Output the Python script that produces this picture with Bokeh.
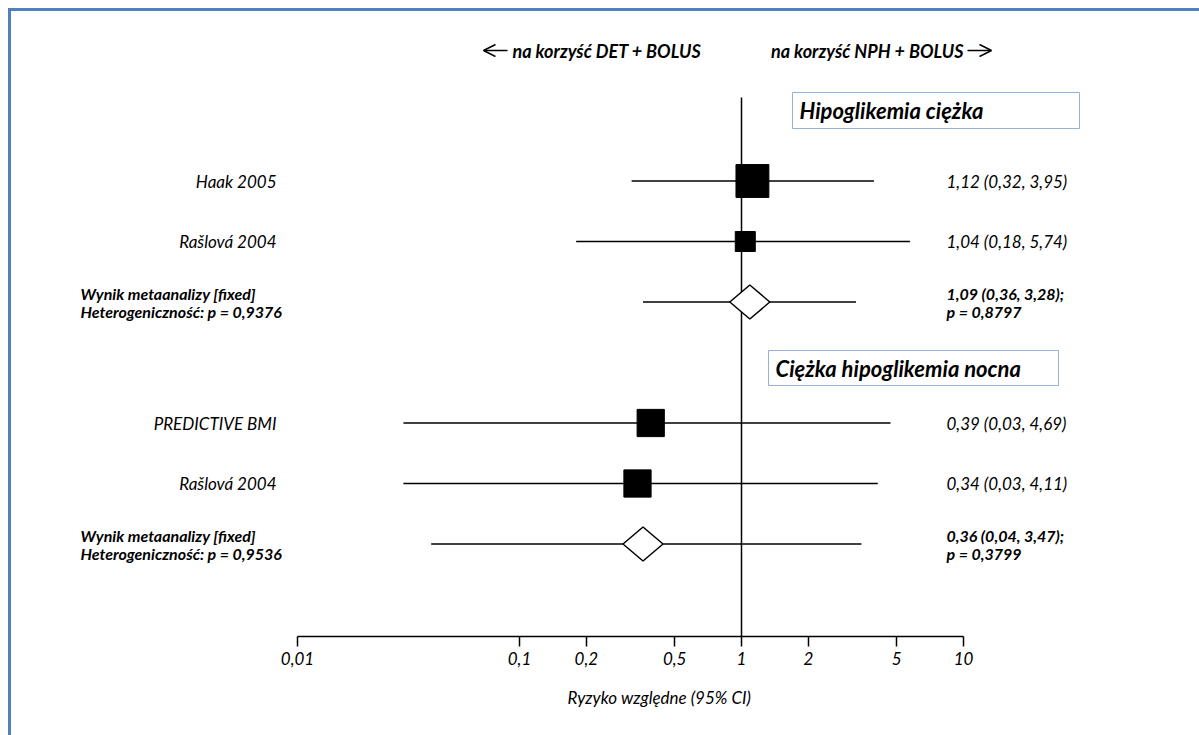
import math
from bokeh.plotting import figure
from bokeh.models import (Range1d, LogAxis, FixedTicker, Title,
                          ColumnDataSource, Arrow, OpenHead)
from bokeh.core.properties import value
from bokeh.embed import file_html
from bokeh.resources import INLINE

# ---- data -------------------------------------------------------------
study_names = ["Haak 2005", "Rašlová 2004", "PREDICTIVE BMI", "Rašlová 2004"]
study_rr = [1.12, 1.04, 0.39, 0.34]
study_lo = [0.32, 0.18, 0.03, 0.03]
study_hi = [3.95, 5.74, 4.69, 4.11]
study_weight = [73, 27, 50, 50]          # % weight within each analysis
study_row = [1, 2, 5, 6]

pooled_rr = [1.09, 0.36]
pooled_lo = [0.36, 0.04]
pooled_hi = [3.28, 3.47]
pooled_p = ["0,8797", "0,3799"]
het_p = ["0,9376", "0,9536"]
pooled_row = [3, 7]

section_titles = ["Hipoglikemia ciężka", "Ciężka hipoglikemia nocna"]

tick_values = [0.01, 0.1, 0.2, 0.5, 1, 2, 5, 10]
tick_labels = ["0,01", "0,1", "0,2", "0,5", "1", "2", "5", "10"]

# ---- layout -----------------------------------------------------------
W, H = 1199, 735
FRAME_H = 636            # axis line sits at the bottom of the frame
X_ONE = 741              # pixel position of RR = 1
DEC = 222                # pixels per decade
FONT = "Lato"
BLUE = "#4F81BD"


def xd(px):
    """pixel column -> value on the log axis"""
    return 10 ** ((px - X_ONE) / DEC)


def row_y(r):
    return 120 + 60.5 * r


def pl(v):
    return f"{v:.2f}".replace(".", ",")


p = figure(width=W, height=H, x_axis_type="log",
           x_range=Range1d(xd(0), xd(W)), y_range=Range1d(FRAME_H, 0),
           x_axis_location=None, y_axis_location=None,
           output_backend="svg", toolbar_location=None,
           min_border_left=0, min_border_right=0, min_border_top=0,
           min_border_bottom=H - FRAME_H)
p.xgrid.visible = False
p.ygrid.visible = False
p.outline_line_color = None
p.background_fill_color = None
p.border_fill_color = None
# page frame (top and left rules) painted behind the transparent canvas
p.styles = {"background": (f"linear-gradient({BLUE}, {BLUE}) 8px 8px / 3px 100% no-repeat, "
                           f"linear-gradient({BLUE}, {BLUE}) 8px 8px / 100% 3px no-repeat, "
                           "#ffffff")}

# x axis
ax = LogAxis(bounds=(0.01, 10), ticker=FixedTicker(ticks=tick_values, minor_ticks=[]))
ax.major_label_overrides = {v: t for v, t in zip(tick_values, tick_labels)}
ax.major_tick_in = 0
ax.major_tick_out = 10
ax.minor_tick_in = 0
ax.minor_tick_out = 0
ax.axis_line_width = 1.5
ax.major_tick_line_width = 1.5
ax.major_label_text_font = FONT
ax.major_label_text_font_style = "italic"
ax.major_label_text_font_size = "17px"
ax.major_label_text_color = "black"
ax.major_label_standoff = 5
p.add_layout(ax, "below")

# axis title
p.add_layout(Title(text="Ryzyko względne (95% CI)", align="left", offset=567,
                   text_font=FONT, text_font_style="italic", text_font_size="17px",
                   text_color="black", standoff=34), "below")

# line of no effect
p.segment(x0=[1], y0=[97], x1=[1], y1=[FRAME_H], line_color="black", line_width=1.5)

# individual studies
s_src = ColumnDataSource(dict(
    rr=study_rr, lo=study_lo, hi=study_hi,
    y=[row_y(r) for r in study_row],
    size=[3.85 * math.sqrt(w) for w in study_weight],
    name=study_names,
    lab=[f"{pl(r)} ({pl(a)}, {pl(b)})" for r, a, b in zip(study_rr, study_lo, study_hi)],
))
p.segment(x0="lo", y0="y", x1="hi", y1="y", source=s_src, line_color="black", line_width=1.5)
p.scatter(x="rr", y="y", size="size", marker="square", source=s_src,
          fill_color="black", line_color="black")

# pooled estimates
k = 10 ** (20 / DEC)
m_src = ColumnDataSource(dict(
    lo=pooled_lo, hi=pooled_hi, y=[row_y(r) for r in pooled_row],
    xs=[[r / k, r, r * k, r] for r in pooled_rr],
    ys=[[row_y(r), row_y(r) - 17, row_y(r), row_y(r) + 17] for r in pooled_row],
))
p.segment(x0="lo", y0="y", x1="hi", y1="y", source=m_src, line_color="black", line_width=1.5)
p.patches(xs="xs", ys="ys", source=m_src, fill_color="white", line_color="black", line_width=1.5)

# left study names
p.text(x=[xd(276)] * len(study_names), y=[row_y(r) for r in study_row], text=study_names,
       text_align="right", text_baseline="middle", text_font=value(FONT),
       text_font_style="italic", text_font_size="17px", text_color="black")
# right effect sizes
p.text(x=[xd(946)] * len(study_names), y=[row_y(r) for r in study_row], text=s_src.data["lab"],
       text_align="left", text_baseline="middle", text_font=value(FONT),
       text_font_style="italic", text_font_size="17px", text_color="black")

# pooled text blocks
for i, r in enumerate(pooled_row):
    y = row_y(r)
    for dy, t in [(-9, "Wynik metaanalizy [fixed]"), (9, f"Heterogeniczność: p = {het_p[i]}")]:
        p.text(x=[xd(80)], y=[y + dy], text=[t], text_align="left", text_baseline="middle",
               text_font=value(FONT), text_font_style="bold italic", text_font_size="16px",
               text_color="black")
    est = f"{pl(pooled_rr[i])} ({pl(pooled_lo[i])}, {pl(pooled_hi[i])});"
    for dy, t in [(-9, est), (9, f"p = {pooled_p[i]}")]:
        p.text(x=[xd(946)], y=[y + dy], text=[t], text_align="left", text_baseline="middle",
               text_font=value(FONT), text_font_style="bold italic", text_font_size="16px",
               text_color="black")

# section title boxes
boxes = [(792, 1079, 92, 128), (768, 1058, 350, 385)]
for (l, r, t, b), title in zip(boxes, section_titles):
    p.quad(left=[xd(l)], right=[xd(r)], top=[t], bottom=[b], fill_color="white",
           line_color="#95B3D7", line_width=1)
    p.text(x=[xd(l + 7)], y=[(t + b) / 2], text=[title], text_align="left",
           text_baseline="middle", text_font=value(FONT), text_font_style="bold italic",
           text_font_size="22px", text_color="black")

# direction labels
p.text(x=[xd(512)], y=[50], text=["na korzyść DET + BOLUS"], text_align="left",
       text_baseline="middle", text_font=value(FONT), text_font_style="bold italic",
       text_font_size="18px", text_color="black")
p.text(x=[xd(963)], y=[50], text=["na korzyść NPH + BOLUS"], text_align="right",
       text_baseline="middle", text_font=value(FONT), text_font_style="bold italic",
       text_font_size="18px", text_color="black")
p.add_layout(Arrow(end=OpenHead(size=12, line_width=1.5, line_color="black"),
                   x_start=xd(507), y_start=50, x_end=xd(483), y_end=50,
                   line_width=1.5, line_color="black"))
p.add_layout(Arrow(end=OpenHead(size=12, line_width=1.5, line_color="black"),
                   x_start=xd(967), y_start=50, x_end=xd(991), y_end=50,
                   line_width=1.5, line_color="black"))

open("out.html", "w").write(file_html(p, INLINE))
